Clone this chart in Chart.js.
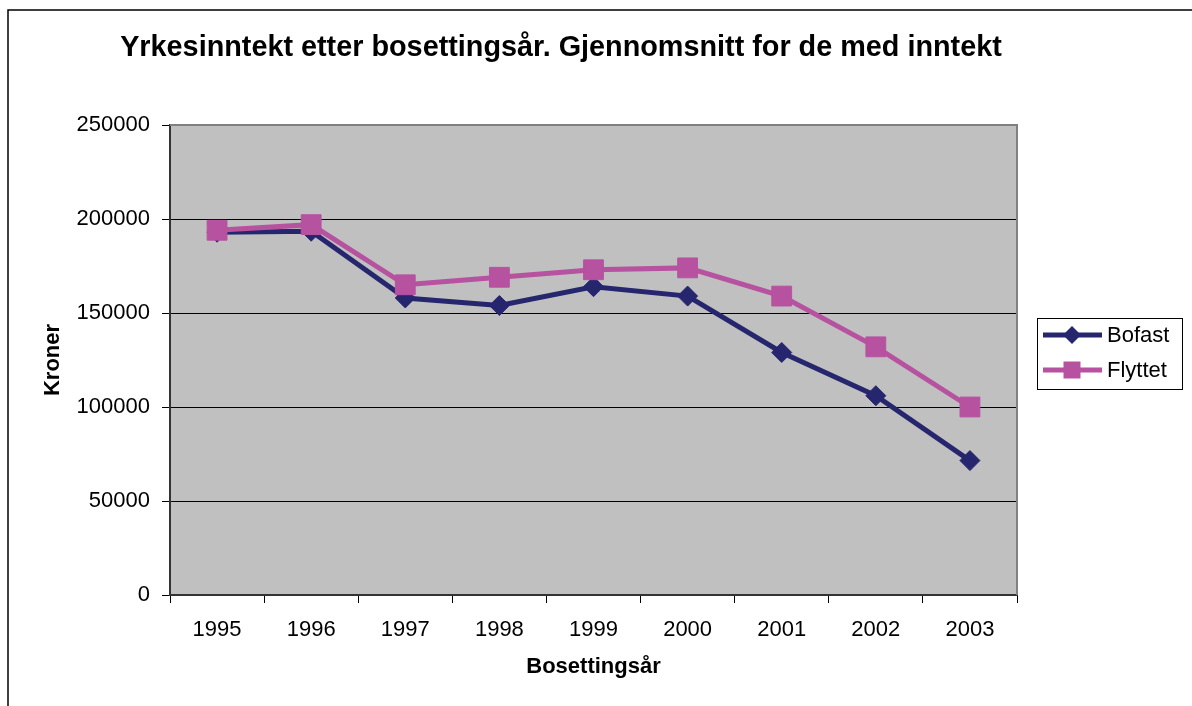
<!DOCTYPE html>
<html>
<head>
<meta charset="utf-8">
<script src="https://cdn.jsdelivr.net/npm/chart.js@4"></script>
<style>
  body { margin: 0; background: #fff; }
</style>
</head>
<body>
<canvas id="myChart" width="1192" height="706"></canvas>
<script>
const years = ['1995', '1996', '1997', '1998', '1999', '2000', '2001', '2002', '2003'];
const bofast = [193000, 193500, 158000, 154000, 164000, 159000, 129000, 106000, 71500];
const flyttet = [194000, 197000, 165000, 169000, 173000, 174000, 159000, 132000, 100000];
const yTicks = [0, 50000, 100000, 150000, 200000, 250000];

const chartTitle = 'Yrkesinntekt etter bosettingsår. Gjennomsnitt for de med inntekt';
const navy = '#26266f';
const pink = '#b652a0';

// frame, title, plot background and legend drawn by hand
const excelLook = {
  id: 'excelLook',
  beforeDraw(chart) {
    const ctx = chart.ctx;
    const a = chart.chartArea;
    ctx.save();
    ctx.fillStyle = '#fff';
    ctx.fillRect(0, 0, chart.width, chart.height);
    ctx.strokeStyle = '#000';
    ctx.lineWidth = 1.5;
    ctx.beginPath();
    ctx.moveTo(8, chart.height);
    ctx.lineTo(8, 10);
    ctx.lineTo(chart.width, 10);
    ctx.stroke();
    ctx.fillStyle = '#c0c0c0';
    ctx.fillRect(a.left, a.top, a.right - a.left, a.bottom - a.top);
    ctx.fillStyle = '#000';
    ctx.font = 'bold 28.8px "Liberation Sans", Arial, sans-serif';
    ctx.textAlign = 'center';
    ctx.textBaseline = 'middle';
    ctx.fillText(chartTitle, 561, 48);
    ctx.restore();
  },
  beforeDatasetsDraw(chart) {
    const ctx = chart.ctx;
    const a = chart.chartArea;
    ctx.save();
    ctx.strokeStyle = '#808080';
    ctx.lineWidth = 2;
    ctx.beginPath();
    ctx.moveTo(a.left, a.top);
    ctx.lineTo(a.right, a.top);
    ctx.lineTo(a.right, a.bottom);
    ctx.stroke();
    ctx.restore();
  },
  afterDraw(chart) {
    const ctx = chart.ctx;
    ctx.save();
    ctx.strokeStyle = '#000';
    ctx.lineWidth = 1;
    ctx.strokeRect(1037.5, 318.5, 145, 71);
    chart.data.datasets.forEach((ds, i) => {
      const y = 335 + i * 35;
      ctx.strokeStyle = ds.borderColor;
      ctx.lineWidth = 5;
      ctx.beginPath();
      ctx.moveTo(1043, y);
      ctx.lineTo(1102, y);
      ctx.stroke();
      ctx.fillStyle = ds.borderColor;
      ctx.beginPath();
      if (ds.pointStyle === 'rectRot') {
        ctx.moveTo(1072, y - 9);
        ctx.lineTo(1081, y);
        ctx.lineTo(1072, y + 9);
        ctx.lineTo(1063, y);
        ctx.closePath();
      } else {
        ctx.rect(1063.5, y - 8.5, 17, 17);
      }
      ctx.fill();
      ctx.fillStyle = '#000';
      ctx.font = '22px "Liberation Sans", Arial, sans-serif';
      ctx.textAlign = 'left';
      ctx.textBaseline = 'middle';
      ctx.fillText(ds.label, 1107, y + 1);
    });
    ctx.restore();
  }
};

const myChart = new Chart(document.getElementById('myChart'), {
  type: 'line',
  data: {
    labels: years,
    datasets: [{
      label: 'Bofast',
      data: bofast,
      borderColor: navy,
      backgroundColor: navy,
      borderWidth: 5,
      pointStyle: 'rectRot',
      pointRadius: 10,
      pointBorderWidth: 1,
      order: 1,
      fill: false
    }, {
      label: 'Flyttet',
      data: flyttet,
      borderColor: pink,
      backgroundColor: pink,
      borderWidth: 5,
      pointStyle: 'rect',
      pointRadius: 14,
      pointBorderWidth: 1,
      order: 0,
      fill: false
    }]
  },
  options: {
    responsive: false,
    animation: false,
    layout: { padding: { left: 0, top: 125, right: 175, bottom: 0 } },
    plugins: {
      legend: { display: false },
      tooltip: { enabled: false }
    },
    scales: {
      x: {
        offset: true,
        grid: { offset: true, drawOnChartArea: false, color: '#000', tickLength: 8 },
        border: { color: '#333', width: 2 },
        ticks: { color: '#000', padding: 14, maxRotation: 0, font: { size: 22, family: '"Liberation Sans", Arial, sans-serif' } },
        title: { display: true, text: 'Bosettingsår', color: '#000', padding: { top: 0, bottom: 26 }, font: { size: 22, weight: 'bold', family: '"Liberation Sans", Arial, sans-serif' } },
        afterFit(scale) { scale.height = 111; }
      },
      y: {
        min: 0,
        max: 250000,
        afterBuildTicks(scale) { scale.ticks = yTicks.map(v => ({ value: v })); },
        grid: { color: '#000', lineWidth: 1, tickLength: 8 },
        border: { color: '#333', width: 2 },
        ticks: { color: '#000', padding: 12, callback: v => String(v), font: { size: 22, family: '"Liberation Sans", Arial, sans-serif' } },
        title: { display: true, text: 'Kroner', color: '#000', padding: { top: 40, bottom: 0 }, font: { size: 22, weight: 'bold', family: '"Liberation Sans", Arial, sans-serif' } },
        afterFit(scale) { scale.width = 170; }
      }
    }
  },
  plugins: [excelLook]
});
</script>
</body>
</html>
